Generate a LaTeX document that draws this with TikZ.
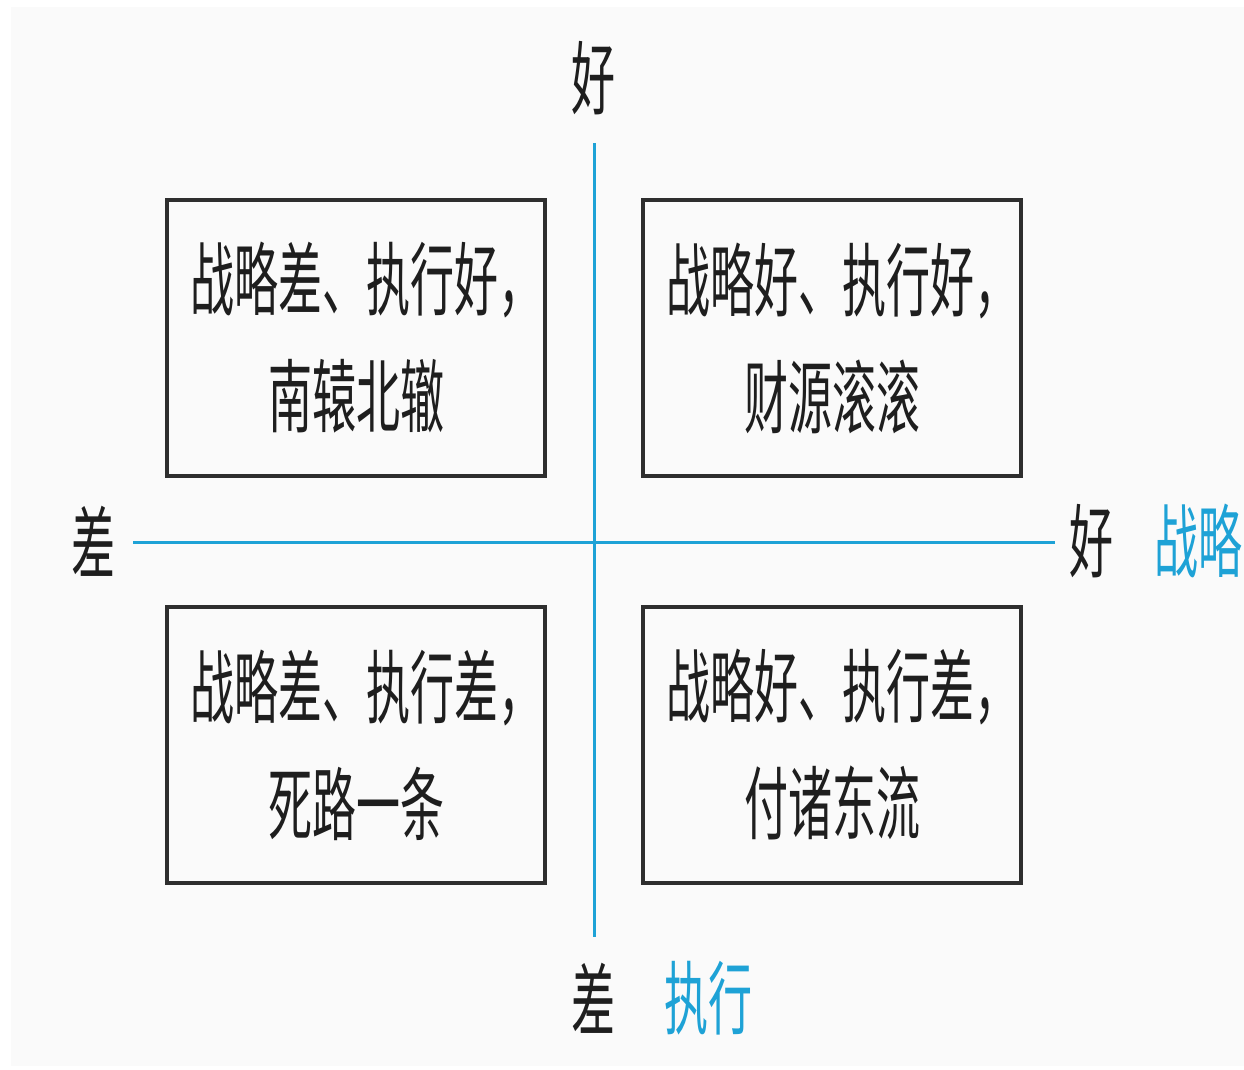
\documentclass[tikz,border=0pt]{standalone}
\usepackage{fontspec}
\setmainfont{Noto Sans CJK SC}[FakeStretch=0.55]
\definecolor{axisblue}{HTML}{1EA2D6}
\definecolor{boxline}{HTML}{2E2E2E}
\definecolor{txt}{HTML}{1E1E1E}
\definecolor{bggrey}{HTML}{FAFAFA}
\newcommand{\firstline}[1]{\hspace*{20pt}#1}
\begin{document}
\begin{tikzpicture}[x=1pt,y=-1pt,
  quad/.style={draw=boxline, line width=3.5pt, minimum width=378pt, minimum height=276pt,
    align=center, text=txt, inner sep=0pt, font=\fontsize{80}{117}\selectfont},
  axislabel/.style={text=txt, inner sep=0pt, font=\fontsize{80}{96}\selectfont},
  axisname/.style={text=axisblue, inner sep=0pt, font=\fontsize{80}{96}\selectfont},
  axisline/.style={draw=axisblue, line width=3pt}]
\useasboundingbox (0,0) rectangle (1244,1070);
\fill[bggrey] (11,7) rectangle (1244,1066);
% axes
\coordinate (vtop) at (594,143);
\coordinate (vbot) at (594,937);
\coordinate (hleft) at (133,542);
\coordinate (hright) at (1055,542);
\draw[axisline] (hleft) -- (hright);
\draw[axisline] (vtop) -- (vbot);
% boxes
\node[quad] (tl) at (356,338) {\firstline{战略差、执行好，}\\南辕北辙};
\node[quad] (tr) at (832,338) {\firstline{战略好、执行好，}\\财源滚滚};
\node[quad] (bl) at (356,745) {\firstline{战略差、执行差，}\\死路一条};
\node[quad] (br) at (832,745) {\firstline{战略好、执行差，}\\付诸东流};
% axis labels
\node[axislabel] (ytop) at (593,78) {好};
\node[axislabel] (ybot) at (593,998) {差};
\node[axisname] (yname) at (708,998) {执行};
\node[axislabel] (xleft) at (93,541) {差};
\node[axislabel] (xright) at (1091,541) {好};
\node[axisname, anchor=west] (xname) at (1154,541) {战略};
\end{tikzpicture}
\end{document}
